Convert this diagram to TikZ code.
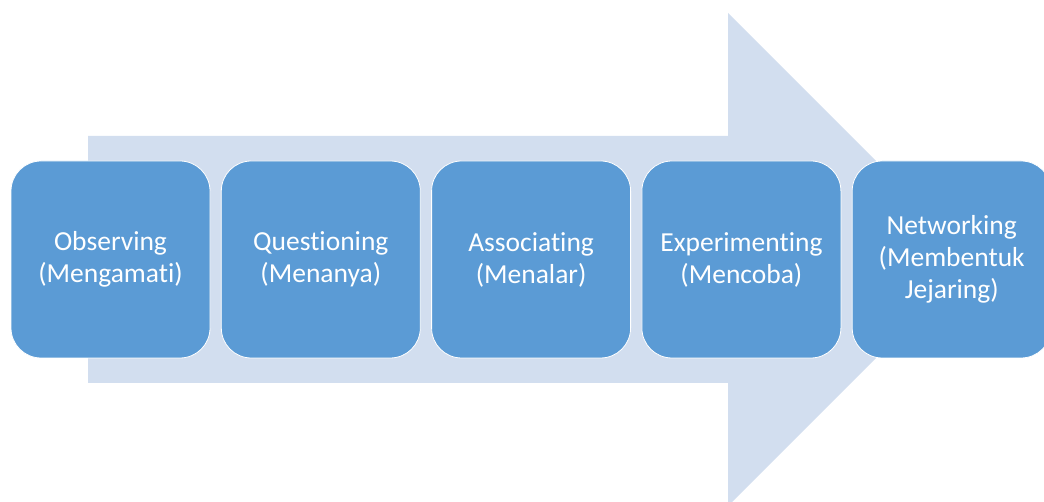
\documentclass[tikz,border=0pt]{standalone}
\usepackage{fontspec}
\setmainfont{Carlito}[Ligatures=NoCommon]
\usepackage{tikz}
\usetikzlibrary{positioning}

\definecolor{stepblue}{HTML}{5B9BD5}
\definecolor{arrowblue}{HTML}{D2DEEF}

\begin{document}
\begin{tikzpicture}[x=1pt, y=1pt, node distance=10.5pt,
  step node/.style={rectangle, rounded corners=30pt, draw=white, line width=0.8pt,
    fill=stepblue, text=white, minimum width=199pt, minimum height=197pt,
    align=center, font=\fontsize{27.5}{32}\selectfont}]

\useasboundingbox (0,0) rectangle (1044,502);
\clip (0,0) rectangle (1044,502);

% big arrow behind the steps
\fill[arrowblue] (88,119) -- (88,366) -- (728,366) -- (728,489) -- (974.5,242.5)
  -- (728,-4) -- (728,119) -- cycle;

\node[step node] (obs) at (110.5,242.5) {Observing\\(Mengamati)};
\node[step node] (que) [right=of obs] {Questioning\\(Menanya)};
\node[step node] (ass) [right=of que] {Associating\\(Menalar)};
\node[step node] (exp) [right=of ass] {Experimenting\\(Mencoba)};
\node[step node] (net) [right=of exp] {Networking\\(Membentuk\\Jejaring)};

\end{tikzpicture}
\end{document}
